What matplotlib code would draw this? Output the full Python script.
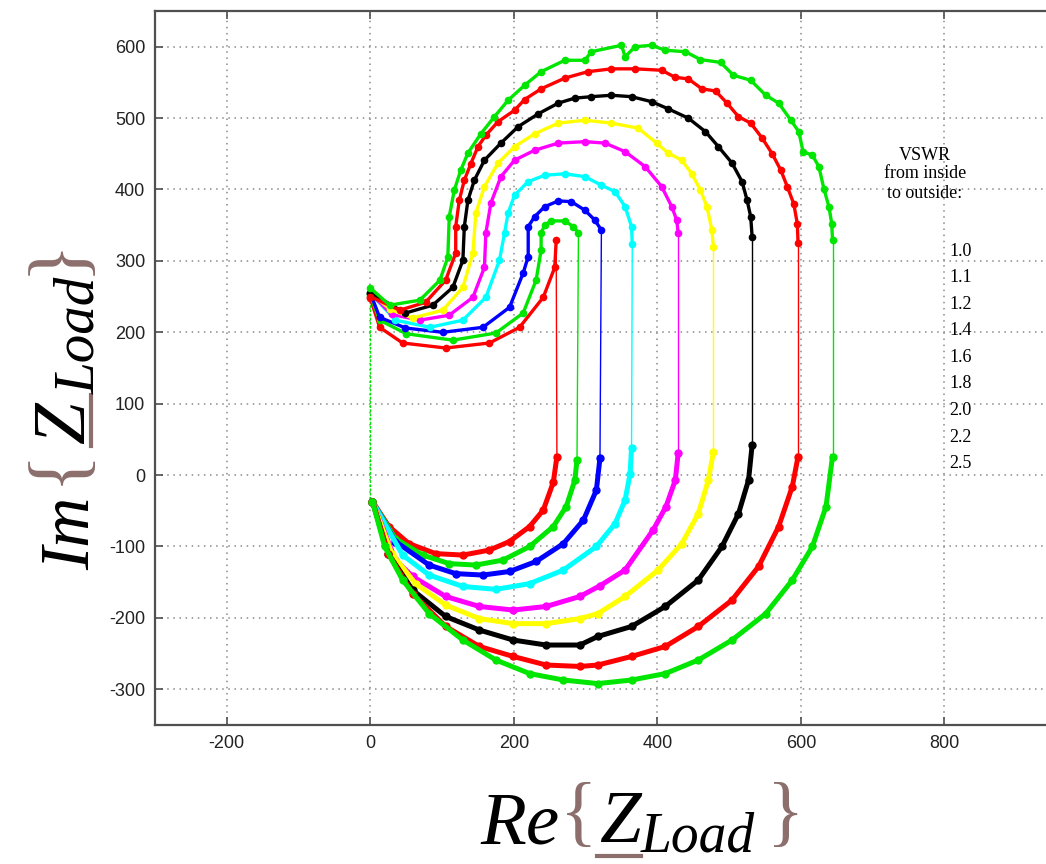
import matplotlib
matplotlib.use("Agg")
import matplotlib.pyplot as plt
from matplotlib.lines import Line2D

plt.rcParams["axes.unicode_minus"] = False

# ---------------- data ----------------
vswr_labels = ["1.0", "1.1", "1.2", "1.4", "1.6", "1.8", "2.0", "2.2", "2.5"]
curve_colors = ["#ff0000", "#00e600", "#0000ff", "#00ffff", "#ff00ff",
                "#ffff00", "#000000", "#ff0000", "#00e600"]

# upper arcs (from the point near (0, 250) to the top of the vertical line)
v10_up_x = [0, 13, 45, 105, 166, 208, 241, 257, 259]
v10_up_y = [248, 207, 185, 178, 185, 207, 249, 291, 329]
v11_up_x = [0, 13, 50, 115, 175, 213, 231, 238, 238, 243, 252, 271, 283, 290]
v11_up_y = [252, 217, 198, 189, 199, 227, 273, 315, 339, 350, 356, 356, 348, 339]
v12_up_x = [0, 13, 49, 101, 157, 194, 213, 220, 220, 229, 243, 262, 280, 299, 313, 322]
v12_up_y = [255, 221, 206, 200, 207, 235, 283, 306, 348, 362, 376, 384, 383, 371, 357, 343]
v14_up_x = [0, 35, 83, 129, 161, 180, 187, 192, 201, 220, 243, 271, 299, 322, 341, 355, 364, 365]
v14_up_y = [255, 217, 207, 217, 249, 301, 339, 367, 392, 411, 420, 422, 418, 406, 397, 376, 348, 324]
v16_up_x = [0, 30, 69, 110, 143, 159, 161, 168, 182, 201, 229, 262, 299, 327, 355, 383, 406, 420, 427, 429]
v16_up_y = [255, 225, 217, 224, 249, 291, 339, 381, 418, 441, 455, 465, 467, 465, 453, 432, 404, 376, 357, 339]
v18_up_x = [0, 28, 59, 101, 129, 143, 147, 159, 178, 201, 229, 262, 299, 336, 373, 399,
            415, 434, 448, 460, 469, 476, 478]
v18_up_y = [255, 232, 220, 231, 263, 311, 367, 404, 437, 460, 478, 493, 497, 493, 486, 465,
            451, 441, 422, 399, 376, 343, 320]
v20_up_x = [0, 49, 87, 115, 129, 131, 136, 145, 159, 182, 206, 234, 262, 285, 308, 336, 364,
            392, 415, 443, 467, 485, 504, 518, 525, 530, 532]
v20_up_y = [255, 227, 238, 263, 301, 348, 385, 413, 441, 465, 488, 506, 521, 528, 530, 532, 530,
            523, 513, 500, 481, 460, 437, 411, 385, 362, 334]
v22_up_x = [0, 41, 77, 105, 119, 119, 124, 131, 140, 150, 161, 178, 201, 215, 238, 271, 303,
            336, 369, 406, 425, 443, 462, 481, 497, 513, 530, 546, 560, 572, 581, 590, 595, 596]
v22_up_y = [250, 231, 242, 273, 311, 348, 385, 413, 436, 460, 476, 495, 511, 526, 541, 556, 565,
            569, 569, 567, 557, 555, 541, 538, 521, 502, 493, 472, 450, 427, 404, 380, 352, 325]
v25_up_x = [0, 27, 69, 97, 108, 110, 117, 126, 136, 154, 173, 192, 215, 238, 271, 299, 308, 350,
            355, 369, 392, 411, 439, 460, 488, 506, 530, 551, 569, 586, 597, 603, 616, 625, 632,
            639, 643, 644]
v25_up_y = [262, 238, 245, 273, 305, 362, 399, 427, 451, 478, 502, 525, 546, 565, 581, 581, 593, 602,
            586, 600, 602, 595, 593, 582, 578, 560, 553, 532, 521, 497, 481, 453, 448, 432, 401,
            376, 352, 329]

# lower arcs (from the bottom of the vertical line back to the point near (0, -37))
v10_lo_x = [260, 255, 241, 222, 194, 166, 129, 91, 54, 26, 3]
v10_lo_y = [26, -10, -49, -72, -93, -105, -112, -110, -96, -72, -37]
v11_lo_x = [288, 285, 273, 255, 222, 185, 147, 110, 73, 35, 3]
v11_lo_y = [21, -7, -44, -72, -100, -119, -126, -124, -112, -89, -37]
v12_lo_x = [320, 315, 297, 269, 231, 194, 157, 119, 82, 35, 3]
v12_lo_y = [24, -21, -63, -96, -121, -135, -140, -138, -126, -93, -37]
v14_lo_x = [364, 362, 355, 341, 315, 269, 222, 175, 129, 82, 45, 3]
v14_lo_y = [38, 2, -35, -68, -100, -133, -152, -160, -156, -140, -112, -37]
v16_lo_x = [429, 425, 412, 394, 355, 320, 292, 245, 199, 152, 105, 59, 35, 3]
v16_lo_y = [31, -7, -44, -77, -133, -155, -170, -184, -189, -184, -170, -142, -119, -37]
v18_lo_x = [478, 471, 457, 434, 401, 355, 317, 292, 245, 199, 152, 105, 63, 30, 3]
v18_lo_y = [32, -7, -54, -96, -133, -170, -194, -201, -208, -208, -201, -182, -152, -110, -37]
v20_lo_x = [532, 527, 513, 490, 457, 411, 364, 317, 292, 245, 199, 152, 105, 59, 25, 3]
v20_lo_y = [42, -7, -54, -100, -147, -184, -212, -226, -238, -238, -231, -217, -198, -161, -110, -37]
v22_lo_x = [596, 588, 569, 541, 504, 457, 411, 364, 317, 292, 245, 199, 152, 105, 59, 25, 3]
v22_lo_y = [26, -16, -72, -128, -175, -212, -240, -254, -266, -268, -266, -254, -240, -212, -166,
            -110, -37]
v25_lo_x = [644, 635, 616, 588, 551, 504, 457, 411, 364, 317, 269, 222, 175, 129, 82, 45, 20, 3]
v25_lo_y = [26, -44, -100, -147, -194, -231, -259, -278, -287, -292, -287, -278, -259, -231, -194,
            -147, -100, -37]

# thin green line along Re = 0
zero_line_x = [0, 0]
zero_line_y = [262, -37]

upper_x = [v10_up_x, v11_up_x, v12_up_x, v14_up_x, v16_up_x, v18_up_x, v20_up_x, v22_up_x, v25_up_x]
upper_y = [v10_up_y, v11_up_y, v12_up_y, v14_up_y, v16_up_y, v18_up_y, v20_up_y, v22_up_y, v25_up_y]
lower_x = [v10_lo_x, v11_lo_x, v12_lo_x, v14_lo_x, v16_lo_x, v18_lo_x, v20_lo_x, v22_lo_x, v25_lo_x]
lower_y = [v10_lo_y, v11_lo_y, v12_lo_y, v14_lo_y, v16_lo_y, v18_lo_y, v20_lo_y, v22_lo_y, v25_lo_y]

x_ticks = [-200, 0, 200, 400, 600, 800]
y_ticks = [-300, -200, -100, 0, 100, 200, 300, 400, 500, 600]

# ---------------- figure ----------------
W, H = 1046, 864
fig = plt.figure(figsize=(W / 100, H / 100), dpi=100)
fig.patch.set_facecolor("white")

def fx(px):
    return px / W

def fy(py):
    return 1 - py / H

# axes (right part runs past the picture edge, as in the reference)
ax_left, ax_right, ax_top, ax_bot = 155, 1088, 11, 725
ax = fig.add_axes([fx(ax_left), fy(ax_bot), (ax_right - ax_left) / W, (ax_bot - ax_top) / H])
ax.set_xlim(-300, 1000)
ax.set_ylim(-350, 650)
ax.set_xticks(x_ticks)
ax.set_yticks(y_ticks)
ax.grid(True, color="#8a8a8a", linestyle=(0, (1, 3)), linewidth=1.1)
ax.set_axisbelow(True)
for s in ["left", "bottom", "top"]:
    ax.spines[s].set_color("#505050")
    ax.spines[s].set_linewidth(1.6)
ax.spines["right"].set_visible(False)
ax.tick_params(direction="in", length=6, width=1.2, color="#505050",
               top=True, bottom=True, left=True, right=False,
               labelsize=13, labelcolor="#222222", pad=7)
for lab in ax.get_xticklabels() + ax.get_yticklabels():
    lab.set_fontfamily(["Liberation Sans", "DejaVu Sans"])

# green line at Re = 0
ax.plot(zero_line_x, zero_line_y, color="#00e600", linewidth=1.0, linestyle=(0, (2, 1)), zorder=3)

for ux, uy, lx, ly, c in zip(upper_x, upper_y, lower_x, lower_y, curve_colors):
    # vertical connection from the top of the upper arc to the lower arc
    ax.plot([ux[-1], lx[0]], [uy[-1], ly[0]], color=c, linewidth=1.0, zorder=3)
    ax.plot(ux, uy, color=c, linewidth=2.4, marker="o", markersize=4.5, zorder=4)
    ax.plot(lx, ly, color=c, linewidth=3.6, marker="o", markersize=5, zorder=4)

# VSWR annotation
serif = ["Liberation Serif", "DejaVu Serif"]
fig.text(fx(925), fy(155), "VSWR", ha="center", va="center", fontsize=13, family=serif)
fig.text(fx(925), fy(174), "from inside", ha="center", va="center", fontsize=13, family=serif)
fig.text(fx(925), fy(193), "to outside:", ha="center", va="center", fontsize=13, family=serif)
for i, lab in enumerate(vswr_labels):
    fig.text(fx(949), fy(251 + i * 26.6), lab, ha="left", va="center", fontsize=13, family=serif)

# axis labels built from pieces (brace colour as in the reference)
brace_c = "#8c6f6c"
lf = ["Liberation Serif", "DejaVu Serif"]

# x label: Re{Z_Load}
fig.text(fx(480), fy(843), "Re", ha="left", va="baseline", fontsize=54, style="italic", family=lf)
fig.text(fx(579), fy(818), "{", ha="center", va="center", fontsize=56, family=lf, color=brace_c)
fig.text(fx(599), fy(842), "Z", ha="left", va="baseline", fontsize=54, style="italic", family=lf)
fig.lines.append(Line2D([fx(597), fx(641)], [fy(856), fy(856)], transform=fig.transFigure,
                        color=brace_c, linewidth=3))
fig.text(fx(641), fy(851), "Load", ha="left", va="baseline", fontsize=40, style="italic", family=lf)
fig.text(fx(786), fy(818), "}", ha="center", va="center", fontsize=56, family=lf, color=brace_c)

# y label: Im{Z_Load}, rotated
def vtext(px, py, s, size, italic=True):
    fig.text(fx(px), fy(py), s, ha="left", va="baseline", rotation=90, rotation_mode="anchor",
             fontsize=size, style="italic" if italic else "normal", family=lf, color="black")

def vbrace(px, py, s):
    fig.text(fx(px), fy(py), s, ha="center", va="center", rotation=90,
             fontsize=58, family=lf, color=brace_c)

vtext(89, 570, "Im", 50)
vbrace(58, 466, "{")
vtext(84, 444, "Z", 54)
fig.lines.append(Line2D([fx(91), fx(91)], [fy(446), fy(395)], transform=fig.transFigure,
                        color=brace_c, linewidth=3))
vtext(94, 394, "Load", 41)
vbrace(58, 256, "}")

fig.savefig("out.png", dpi=100, facecolor="white")
